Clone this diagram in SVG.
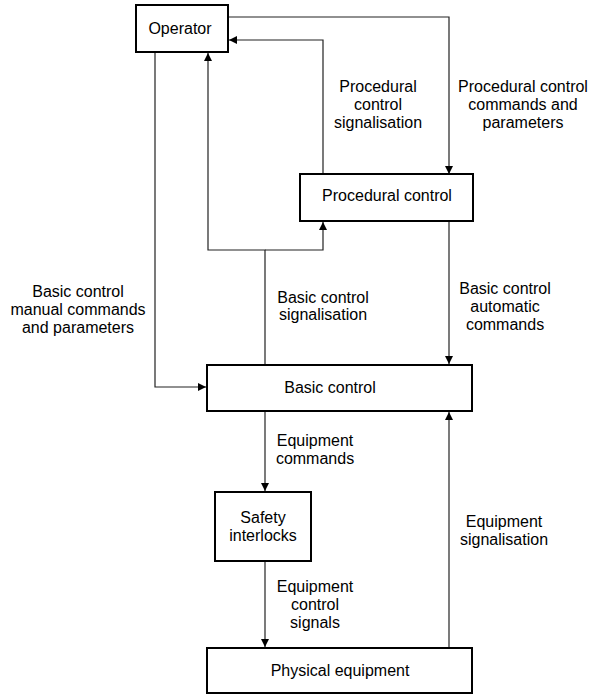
<svg xmlns="http://www.w3.org/2000/svg" width="594" height="694" viewBox="0 0 594 694">
  <defs>
    <marker id="arrow" viewBox="0 0 10 10" refX="10" refY="5" markerWidth="8" markerHeight="8" markerUnits="userSpaceOnUse" orient="auto">
      <path d="M0,0 L10,5 L0,10 z" fill="#000"/>
    </marker>
    <style>
      .box { fill: #fff; stroke: #000; stroke-width: 2; }
      .lbl { font-family: "Liberation Sans", Arial, sans-serif; font-size: 16px; fill: #000; text-anchor: middle; }
      .wire { fill: none; stroke: #222; stroke-width: 1.2; }
      .arr { marker-end: url(#arrow); }
    </style>
  </defs>
  <rect width="594" height="694" fill="#fff"/>

  <!-- connectors -->
  <g id="connectors">
    <!-- operator -> procedural control -->
    <path class="wire arr" d="M228,17 H449 V174"/>
    <!-- procedural control signalisation -> operator -->
    <path class="wire arr" d="M323,174 V40 H229"/>
    <!-- basic control signalisation -> operator and procedural control -->
    <path class="wire arr" d="M265,365 V250 H208 V53"/>
    <path class="wire arr" d="M265,250 H323 V222"/>
    <!-- operator -> basic control (manual) -->
    <path class="wire arr" d="M155,52 V387 H206"/>
    <!-- procedural control -> basic control (automatic) -->
    <path class="wire arr" d="M449,221 V364"/>
    <!-- basic control -> safety interlocks -->
    <path class="wire arr" d="M265,411 V491"/>
    <!-- safety interlocks -> physical equipment -->
    <path class="wire arr" d="M265,561 V647"/>
    <!-- physical equipment -> basic control -->
    <path class="wire arr" d="M449,648 V412"/>

    <text class="lbl"><tspan x="378" y="92">Procedural</tspan><tspan x="378" y="110">control</tspan><tspan x="378" y="128">signalisation</tspan></text>
    <text class="lbl"><tspan x="523" y="92">Procedural control</tspan><tspan x="523" y="110">commands and</tspan><tspan x="523" y="128">parameters</tspan></text>
    <text class="lbl"><tspan x="323" y="303">Basic control</tspan><tspan x="323" y="320">signalisation</tspan></text>
    <text class="lbl"><tspan x="505" y="294">Basic control</tspan><tspan x="505" y="312">automatic</tspan><tspan x="505" y="330">commands</tspan></text>
    <text class="lbl"><tspan x="78" y="297">Basic control</tspan><tspan x="78" y="315">manual commands</tspan><tspan x="78" y="333">and parameters</tspan></text>
    <text class="lbl"><tspan x="315" y="446">Equipment</tspan><tspan x="315" y="464">commands</tspan></text>
    <text class="lbl"><tspan x="315" y="592">Equipment</tspan><tspan x="315" y="610">control</tspan><tspan x="315" y="628">signals</tspan></text>
    <text class="lbl"><tspan x="504" y="527">Equipment</tspan><tspan x="504" y="545">signalisation</tspan></text>
  </g>

  <g id="operator">
    <rect class="box" x="136" y="5" width="92" height="47"/>
    <text class="lbl" x="180" y="34">Operator</text>
  </g>
  <g id="procedural-control">
    <rect class="box" x="300" y="174" width="173" height="47"/>
    <text class="lbl" x="387" y="201">Procedural control</text>
  </g>
  <g id="basic-control">
    <rect class="box" x="207" y="365" width="265" height="46"/>
    <text class="lbl" x="330" y="393">Basic control</text>
  </g>
  <g id="safety-interlocks">
    <rect class="box" x="215" y="492" width="96" height="69"/>
    <text class="lbl"><tspan x="263" y="523">Safety</tspan><tspan x="263" y="541">interlocks</tspan></text>
  </g>
  <g id="physical-equipment">
    <rect class="box" x="207" y="648" width="265" height="45"/>
    <text class="lbl" x="340" y="676">Physical equipment</text>
  </g>
</svg>
